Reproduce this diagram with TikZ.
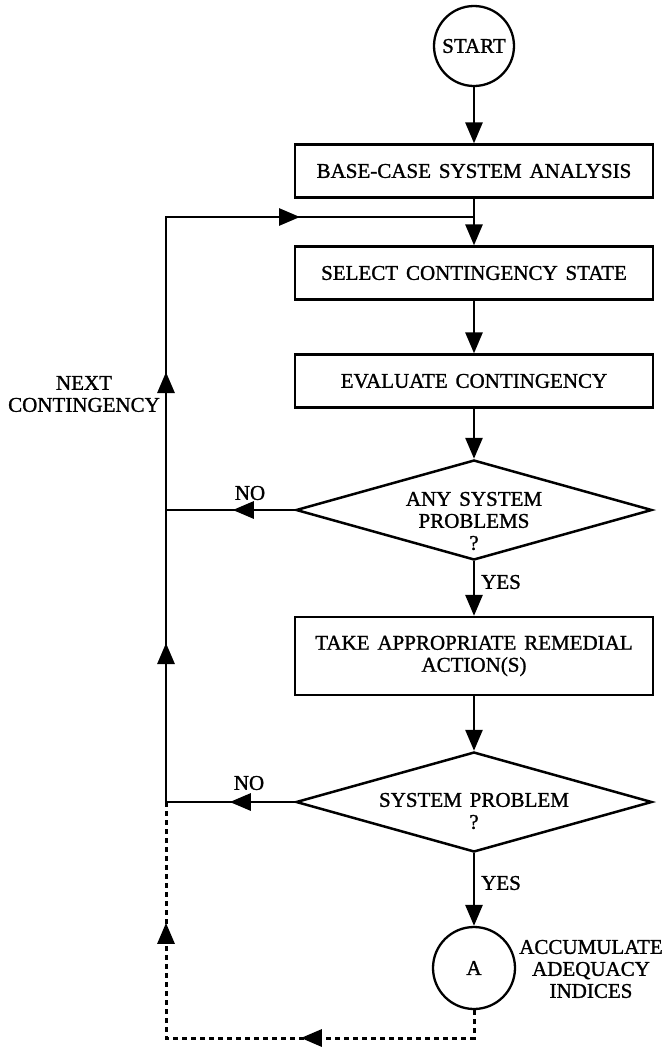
\documentclass[tikz,border=0pt]{standalone}
\usepackage{fontspec}
\setmainfont[WordSpace=1.5, FakeBold=1.2]{Liberation Serif}
\usetikzlibrary{positioning,arrows.meta,shapes.geometric,decorations.markings}
\newcommand{\flowfont}{\fontsize{21}{22}\selectfont}
\tikzset{
  flowbox/.style={draw, line width=2.3pt, rectangle, minimum width=358pt, minimum height=53pt, inner sep=0pt, align=center, font=\flowfont},
  decision/.style={draw, line width=2.5pt, diamond, minimum width=356pt, minimum height=100pt, inner sep=0pt},
  termnode/.style={draw, line width=2.3pt, circle, minimum size=80pt, inner sep=0pt, font=\flowfont},
  dtext/.style={align=center, inner sep=0pt, font=\flowfont},
  flowline/.style={line width=2.8pt, -{Triangle[length=21pt,width=17pt]}},
  loopline/.style={line width=2.8pt, postaction=decorate},
  dashline/.style={line width=3pt, dash pattern=on 5pt off 4pt, postaction=decorate},
}

\begin{document}
\begin{tikzpicture}[x=1pt, y=-1pt]
  \useasboundingbox (0,0) rectangle (665,1047);
  % main column
  \node[termnode] (start) at (474,46) {START};
  \node[flowbox] (base) at (474,171) {BASE-CASE SYSTEM ANALYSIS};
  \node[flowbox] (select) at (474,273) {SELECT CONTINGENCY STATE};
  \node[flowbox] (eval) at (474,381) {EVALUATE CONTINGENCY};
  \node[decision] (anyprob) at (474,510) {};
  \node[dtext] (anyprobtxt) at (474,521) {ANY SYSTEM\\PROBLEMS\\?};
  \node[flowbox, minimum height=78pt] (remedy) at (474,656) {TAKE APPROPRIATE REMEDIAL\\ACTION(S)};
  \node[decision] (sysprob) at (474,802) {};
  \node[dtext] (sysprobtxt) at (474,811) {SYSTEM PROBLEM\\?};
  \node[termnode, minimum size=82pt] (acc) at (474,968) {A};
  \node[dtext] (acctxt) at (591,969) {ACCUMULATE\\ADEQUACY\\INDICES};
  % labels
  \node[dtext] (nextc) at (84,394) {NEXT\\CONTINGENCY};
  \node[dtext] (no1) at (250,493) {NO};
  \node[dtext] (no2) at (249,783) {NO};
  \node[dtext, anchor=west] (yes1) at (481,582) {YES};
  \node[dtext, anchor=west] (yes2) at (481,883) {YES};
  % loop corners
  \coordinate (joint) at (474,217);
  \coordinate (looptop) at (166,217);
  \coordinate (loopno1) at (166,510);
  \coordinate (loopno2) at (166,802);
  \coordinate (dashright) at (474,1038);
  \coordinate (dashleft) at (166,1038);

  \draw[flowline] (start) -- (base);
  \draw[flowline] (base) -- (select);
  \draw[flowline] (select) -- (eval);
  \draw[flowline] (eval) -- (anyprob);
  \draw[flowline] (anyprob) -- (remedy);
  \draw[flowline] (remedy) -- (sysprob);
  \draw[flowline] (sysprob) -- (acc);

  % NO branches and the way back
  \draw[loopline, decoration={markings, mark=at position 62pt with {\arrow{Triangle[length=21pt,width=17pt]}}}]
    (anyprob.west) -- (loopno1);
  \draw[loopline, decoration={markings, mark=at position 65pt with {\arrow{Triangle[length=21pt,width=17pt]}}}]
    (sysprob.west) -- (loopno2);
  \draw[loopline, decoration={markings,
      mark=at position 159pt with {\arrow{Triangle[length=21pt,width=17pt]}},
      mark=at position 430pt with {\arrow{Triangle[length=21pt,width=17pt]}},
      mark=at position 719pt with {\arrow{Triangle[length=21pt,width=17pt]}}}]
    (loopno2) -- (looptop) -- (joint);
  \draw[dashline, decoration={markings,
      mark=at position 201pt with {\arrow{Triangle[length=21pt,width=17pt]}},
      mark=at position 451pt with {\arrow{Triangle[length=21pt,width=17pt]}}}]
    (acc.south) -- (dashright) -- (dashleft) -- (loopno2);
\end{tikzpicture}
\end{document}
